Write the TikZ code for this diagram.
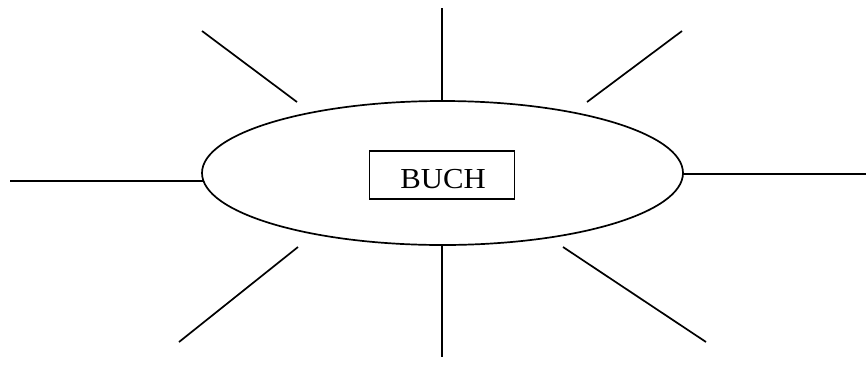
\documentclass[tikz,border=0pt]{standalone}
\usepackage{fontspec}
\setmainfont{Liberation Serif}
\usetikzlibrary{shapes.geometric}
\begin{document}
\begin{tikzpicture}[x=1pt,y=-1pt,
  ray/.style={line width=1.7pt},
  oval/.style={draw,ellipse,line width=1.7pt,minimum width=481pt,minimum height=144pt,inner sep=0pt},
  label box/.style={draw,line width=1.7pt,minimum width=145pt,minimum height=48pt,inner sep=0pt}]
\useasboundingbox (0,0) rectangle (866,365);
\node[oval] (e) at (442.5,173) {};
\node[label box] (b) at (442,175) {};
\node[anchor=base,font=\fontsize{29}{31}\selectfont,xscale=1.06] (t) at (443,188) {BUCH};
% rays
\coordinate (n1) at (442,8);   \coordinate (n2) at (442,101);
\coordinate (s1) at (442,245); \coordinate (s2) at (442,357);
\coordinate (w1) at (10,181);  \coordinate (w2) at (203,181);
\coordinate (o1) at (683,174); \coordinate (o2) at (866,174);
\coordinate (nw1) at (202,31); \coordinate (nw2) at (297,102);
\coordinate (ne1) at (682,31); \coordinate (ne2) at (587,102);
\coordinate (sw1) at (298,247); \coordinate (sw2) at (179,342);
\coordinate (se1) at (563,247); \coordinate (se2) at (706,342);
\draw[ray] (n1) -- (n2);
\draw[ray] (s1) -- (s2);
\draw[ray] (w1) -- (w2);
\draw[ray] (o1) -- (o2);
\draw[ray] (nw1) -- (nw2);
\draw[ray] (ne1) -- (ne2);
\draw[ray] (sw1) -- (sw2);
\draw[ray] (se1) -- (se2);
\end{tikzpicture}
\end{document}
